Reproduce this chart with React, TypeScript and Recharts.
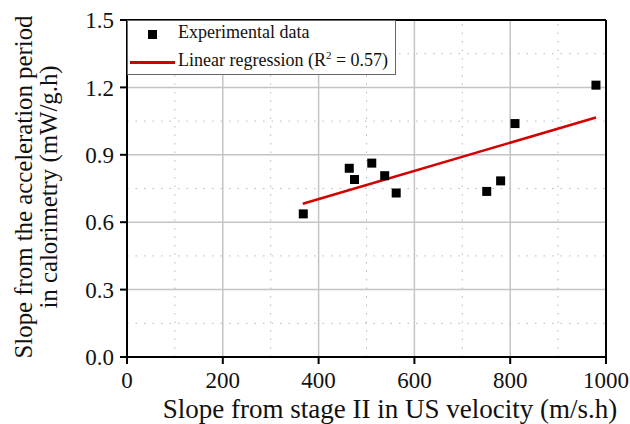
import React from "react";
import {
  ScatterChart,
  Scatter,
  XAxis,
  YAxis,
  CartesianGrid,
  ReferenceLine,
} from "recharts";

// measured points (x: slope stage II in US velocity, y: slope in calorimetry)
const usSlope = [368, 464, 475, 511, 538, 562, 751, 780, 810, 979];
const caloSlope = [0.637, 0.84, 0.79, 0.863, 0.807, 0.73, 0.737, 0.784, 1.039, 1.21];

// fitted line end points
const fitX = [367, 979];
const fitY = [0.682, 1.066];

const xTicks = [0, 200, 400, 600, 800, 1000];
const yTicks = [0, 0.3, 0.6, 0.9, 1.2, 1.5];
const xMinor = [100, 300, 500, 700, 900];
const yMinor = [0.15, 0.45, 0.75, 1.05, 1.35];

const points = usSlope.map((x, i) => ({ x, y: caloSlope[i] }));

const FONT = "Liberation Serif, Times New Roman, serif";

const css = `
  body { margin: 0; }
  .chart-box, .chart-box text { font-family: "Liberation Serif", "Times New Roman", serif; }
`;

const SquareDot = (props: any) => {
  const { cx, cy } = props;
  return <rect x={cx - 4.5} y={cy - 4.5} width={9} height={9} fill="#000" />;
};

const LegendBox = () => (
  <div
    style={{
      position: "absolute",
      left: 127,
      top: 20,
      width: 269,
      height: 55,
      boxSizing: "border-box",
      border: "1px solid #666",
      background: "#fff",
      fontSize: 18,
      color: "#111",
    }}
  >
    <div style={{ position: "absolute", left: 20, top: 9, width: 9, height: 9, background: "#000" }} />
    <div style={{ position: "absolute", left: 50, top: 1 }}>Experimental data</div>
    <div style={{ position: "absolute", left: 2, top: 40, width: 45, height: 2.5, background: "#d00000" }} />
    <div style={{ position: "absolute", left: 50, top: 28, whiteSpace: "nowrap" }}>
      Linear regression (R<sup style={{ fontSize: 11, verticalAlign: 7 }}>2</sup> = 0.57)
    </div>
  </div>
);

const YTitle = () => {
  const cy = 187;
  return (
    <g fontSize={24.8} fill="#111">
      <text x={32} y={cy} transform={`rotate(-90, 32, ${cy})`} textAnchor="middle">
        Slope from the acceleration period
      </text>
      <text x={57} y={cy} transform={`rotate(-90, 57, ${cy})`} textAnchor="middle">
        in calorimetry (mW/g.h)
      </text>
    </g>
  );
};

const XTitle = () => (
  <text x={390} y={418} textAnchor="middle" fontSize={27} fill="#111">
    Slope from stage II in US velocity (m/s.h)
  </text>
);

export default function App() {
  return (
    <div className="chart-box" style={{ position: "absolute", left: 0, top: 0, width: 630, height: 424, background: "#fff" }}>
      <style>{css}</style>
      <ScatterChart
        width={630}
        height={424}
        margin={{ top: 20, right: 24, left: 0, bottom: 0 }}
      >
        <CartesianGrid stroke="#c4c4c4" strokeWidth={1.5} />
        {xMinor.map((v) => (
          <ReferenceLine key={"xm" + v} x={v} stroke="#b8b8b8" strokeDasharray="1.5 7" />
        ))}
        {yMinor.map((v) => (
          <ReferenceLine key={"ym" + v} y={v} stroke="#b8b8b8" strokeDasharray="1.5 7" />
        ))}
        <XAxis
          type="number"
          dataKey="x"
          domain={[0, 1000]}
          ticks={xTicks}
          height={67}
          tickSize={7}
          tickMargin={8}
          tickLine={{ stroke: "#000", strokeWidth: 2 }}
          axisLine={{ stroke: "#000", strokeWidth: 2 }}
          tick={{ fontFamily: FONT, fontSize: 23, fill: "#111" }}
          label={<XTitle />}
        />
        <YAxis
          type="number"
          dataKey="y"
          domain={[0, 1.5]}
          ticks={yTicks}
          width={127}
          tickSize={7}
          tickMargin={6}
          tickLine={{ stroke: "#000", strokeWidth: 2 }}
          axisLine={{ stroke: "#000", strokeWidth: 2 }}
          tickFormatter={(v: number) => v.toFixed(1)}
          tick={{ fontFamily: FONT, fontSize: 23, fill: "#111" }}
          label={<YTitle />}
        />
        <ReferenceLine y={1.5} stroke="#000" strokeWidth={2} />
        <ReferenceLine x={1000} stroke="#000" strokeWidth={2} />
        <ReferenceLine
          segment={[
            { x: fitX[0], y: fitY[0] },
            { x: fitX[1], y: fitY[1] },
          ]}
          stroke="#d40000"
          strokeWidth={2.5}
        />
        <Scatter
          name="Experimental data"
          data={points}
          shape={<SquareDot />}
          isAnimationActive={false}
        />
      </ScatterChart>
      <LegendBox />
    </div>
  );
}
